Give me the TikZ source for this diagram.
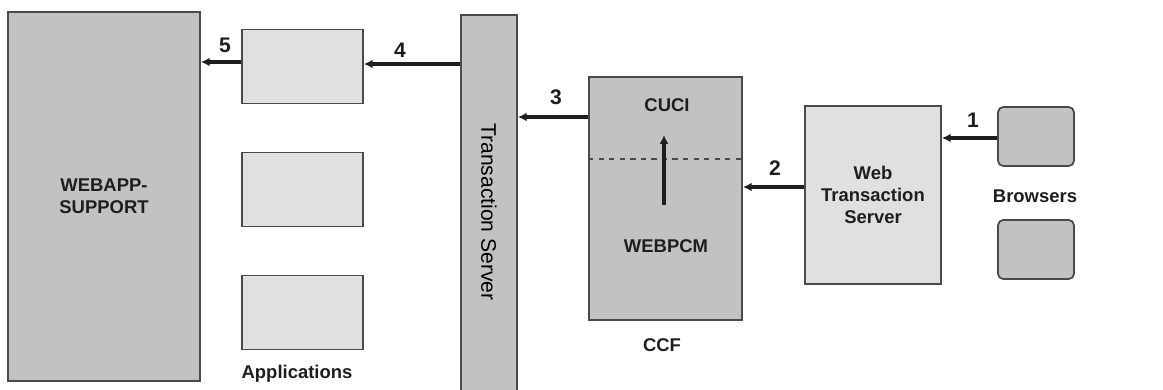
\documentclass[tikz,border=0pt]{standalone}
\usepackage{fontspec}
\setmainfont{Liberation Sans}
\usetikzlibrary{arrows.meta,positioning,calc}
\usepackage{xcolor}
\definecolor{wsInk}{HTML}{4A4A4A}
\definecolor{wsDark}{HTML}{C2C2C0}
\definecolor{wsLight}{HTML}{E0E0DE}
\definecolor{wsArrow}{HTML}{1E1E1E}
\tikzset{
  blk/.style={draw=wsInk, fill=wsDark, line width=1pt, inner sep=0pt},
  blkL/.style={blk, fill=wsLight},
  brw/.style={blk, rounded corners=3pt, minimum width=1.52cm, minimum height=1.18cm},
  app/.style={blkL, minimum width=2.42cm, minimum height=1.48cm},
  lbl/.style={font=\fontsize{10.5}{12.5}\selectfont\bfseries, text=wsArrow, align=center},
  num/.style={font=\fontsize{12}{14}\selectfont\bfseries, text=wsArrow},
  arr/.style={-{Latex[length=5pt,width=5pt]}, line width=2pt, draw=wsArrow},
}
\begin{document}
\begin{tikzpicture}
            \useasboundingbox (0,0) rectangle (23.26,7.78);
            \node[blk, minimum width=3.84cm, minimum height=7.38cm, lbl] (wsup) at (2.08,3.85) {WEBAPP-\\SUPPORT};
            \node[app] (app1) at (6.05,6.45) {};
            \node[app] (app2) at (6.05,3.99) {};
            \node[app] (app3) at (6.05,1.53) {};
            \node[lbl] (applbl) at (5.94,0.30) {Applications};
            % rotated box: north is its right side, south its left side
            \node[blk, minimum width=7.88cm, minimum height=1.12cm, rotate=-90,
                  font=\fontsize{12}{14}\selectfont] (tsrv) at (9.78,3.54) {Transaction Server};
            \node[blk, minimum width=3.06cm, minimum height=4.86cm] (ccf) at (13.31,3.81) {};
            \draw[wsInk, dashed, line width=0.8pt] ($(ccf.west)+(0,0.79)$) -- ($(ccf.east)+(0,0.79)$);
            \node[lbl] (cuci) at (13.34,5.68) {CUCI};
            \node[lbl] (wpcm) at (13.32,2.86) {WEBPCM};
            \node[lbl] (ccflbl) at (13.24,0.88) {CCF};
            \node[blkL, minimum width=2.72cm, minimum height=3.56cm, lbl] (wts) at (17.46,3.88) {Web\\Transaction\\Server};
            \node[brw] (brw1) at (20.72,5.05) {};
            \node[brw] (brw2) at (20.72,2.79) {};
            \node[lbl] (brwlbl) at (20.70,3.86) {Browsers};
            % flow steps
            \coordinate (c1) at ($(brw1.west)+(0,-0.03)$);
            \coordinate (c2) at ($(wts.west)+(0,0.16)$);
            \coordinate (c3) at ($(ccf.west)+(0,1.63)$);
            \coordinate (c4) at ($(tsrv.south)+(0,2.96)$);
            \coordinate (c5) at ($(app1.west)+(0,0.09)$);
            \coordinate (cu) at ($(ccf.center)+(-0.03,-0.13)$);
            \draw[arr] (c1) -- (c1 -| wts.east);
            \draw[arr] (c2) -- (c2 -| ccf.east);
            \draw[arr] (c3) -- (c3 -| tsrv.north);
            \draw[arr] (c4) -- (c4 -| app1.east);
            \draw[arr] (c5) -- (c5 -| wsup.east);
            \draw[arr] (cu) -- ++(0,1.4);
            \node[num] (n1) at (19.46,5.38) {1};
            \node[num] (n2) at (15.50,4.42) {2};
            \node[num] (n3) at (11.12,5.84) {3};
            \node[num] (n4) at (8.00,6.78) {4};
            \node[num] (n5) at (4.50,6.88) {5};
        \end{tikzpicture}
\end{document}
